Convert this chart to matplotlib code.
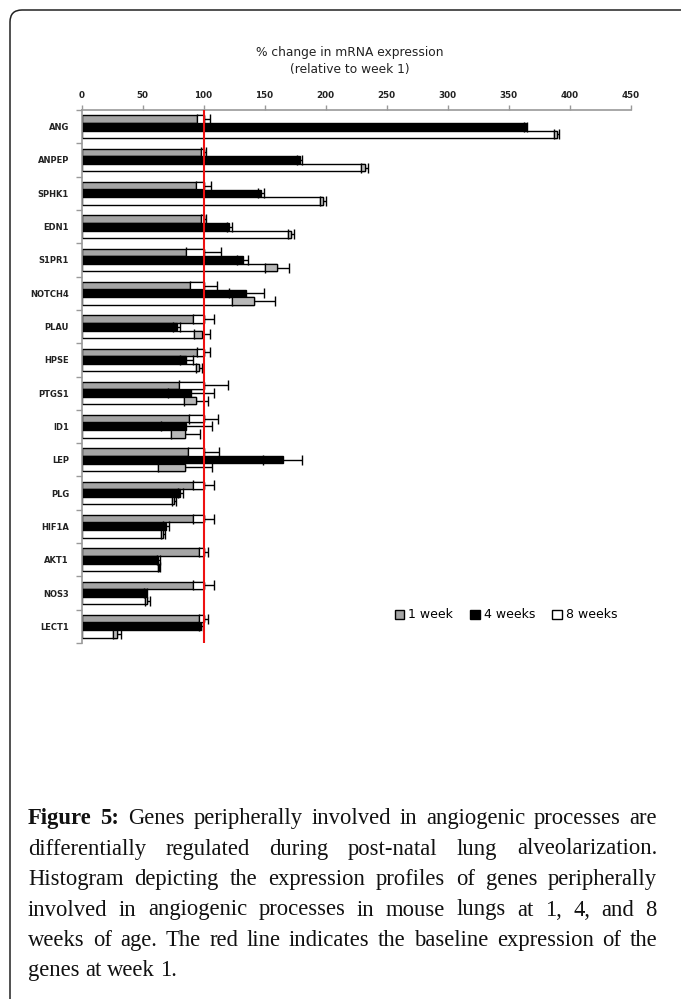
import matplotlib
matplotlib.use("Agg")
import matplotlib.pyplot as plt
import numpy as np
from matplotlib.patches import FancyBboxPatch, Patch
from matplotlib.transforms import IdentityTransform

genes = ["ANG", "ANPEP", "SPHK1", "EDN1", "S1PR1", "NOTCH4", "PLAU", "HPSE",
         "PTGS1", "ID1", "LEP", "PLG", "HIF1A", "AKT1", "NOS3", "LECT1"]
week1 = [100, 100, 100, 100, 100, 100, 100, 100, 100, 100, 100, 100, 100, 100, 100, 100]
week1_err = [5, 2, 6, 2, 14, 11, 9, 5, 20, 12, 12.5, 9, 9, 3.5, 9, 3.5]
week4 = [364, 179, 147, 121, 132, 135, 78, 86, 90, 86, 165, 81, 69, 63, 52.5, 98]
week4_err = [1.5, 2, 2.5, 2, 4.5, 14.5, 3, 5, 19, 21, 16, 2, 2.5, 1.5, 1.5, 1.5]
week8 = [389.5, 232, 198, 172, 160, 141, 99, 96, 94, 85, 85, 76, 67, 63.5, 54, 29]
week8_err = [2, 3, 2.5, 2.5, 10, 18, 6.5, 2.5, 10, 12, 22, 1.5, 1.5, 1, 2, 3]
series_labels = ["1 week", "4 weeks", "8 weeks"]
x_ticks = [0, 50, 100, 150, 200, 250, 300, 350, 400, 450]
baseline = 100

title = "% change in mRNA expression\n(relative to week 1)"
caption_lines = [
    "Genes peripherally involved in angiogenic processes are",
    "differentially regulated during post-natal lung alveolarization.",
    "Histogram depicting the expression profiles of genes peripherally",
    "involved in angiogenic processes in mouse lungs at 1, 4, and 8",
    "weeks of age. The red line indicates the baseline expression of the",
    "genes at week 1.",
]
caption_bold = "Figure 5:"

W, H = 681, 999
fig = plt.figure(figsize=(W / 100, H / 100), dpi=100)
fig.patch.set_facecolor("white")

# outer rounded frame (extends beyond right/bottom)
frame = FancyBboxPatch((10, -40), 760, (H - 10) + 40,
                       boxstyle="round,pad=0,rounding_size=12",
                       transform=IdentityTransform(), fill=False,
                       edgecolor="#222222", linewidth=1.1)
fig.patches.append(frame)

ax = fig.add_axes([81.5 / W, 1 - 643 / H, (630.5 - 81.5) / W, (643 - 110) / H])

y = np.arange(len(genes))
bh = 0.22
offs = [-0.23, 0.0, 0.23]
colors = ["#a5a5a5", "black", "white"]
vals = [week1, week4, week8]
errs = [week1_err, week4_err, week8_err]
box_fill = ["white", None, "#b8b8b8"]

for k in range(3):
    v = np.array(vals[k], dtype=float)
    e = np.array(errs[k], dtype=float)
    yy = y + offs[k]
    ax.barh(yy, v, height=bh, color=colors[k], edgecolor="black", linewidth=1.0, zorder=2)
    ax.errorbar(v, yy, xerr=e, fmt="none", ecolor="black", elinewidth=1.0,
                capsize=3.4, capthick=1.0, zorder=3)
    if box_fill[k] is not None:
        ax.barh(yy, e, left=v - e, height=bh, color=box_fill[k],
                edgecolor="black", linewidth=0.9, zorder=4)

ax.axvline(baseline, color="#ee1111", linewidth=1.5, zorder=6)

ax.set_xlim(x_ticks[0], x_ticks[-1])
ax.set_ylim(len(genes) - 0.5, -0.5)
ax.xaxis.tick_top()
ax.set_xticks(x_ticks)
ax.set_xticklabels([str(t) for t in x_ticks], fontsize=6.3, fontweight="bold",
                   color="#222222")
ax.tick_params(axis="x", direction="out", length=3.5, width=1.0, color="#999999", pad=4)
ax.set_yticks(y)
ax.set_yticklabels(genes, fontsize=6.0, fontweight="bold", color="#222222")
ax.tick_params(axis="y", which="major", length=0, pad=9)
ax.set_yticks(np.arange(len(genes) + 1) - 0.5, minor=True)
ax.tick_params(axis="y", which="minor", direction="out", length=4, width=1.0, color="#999999")
for s in ["right", "bottom"]:
    ax.spines[s].set_visible(False)
for s in ["top", "left"]:
    ax.spines[s].set_color("#999999")
    ax.spines[s].set_linewidth(1.2)
ax.set_facecolor("white")

fig.text(350 / W, 1 - 61 / H, title, ha="center", va="center", fontsize=8.8,
         linespacing=1.45, color="#222222")

handles = [Patch(facecolor=c, edgecolor="black", linewidth=1.0) for c in colors]
fig.legend(handles, series_labels, loc="center", bbox_to_anchor=(506 / W, 1 - 615 / H),
           ncol=3, frameon=False, fontsize=9, handlelength=0.75, handleheight=0.75,
           handletextpad=0.3, columnspacing=1.4, borderaxespad=0)

# caption, justified
renderer = fig.canvas.get_renderer()
left_px, right_px = 28, 657
baselines = [824, 854.5, 885, 915.5, 946, 976]
cap_font = dict(family="Liberation Serif", fontsize=16.3, color="#111111")

t1 = fig.text(0, 0, "a a", **cap_font)
t2 = fig.text(0, 0, "aa", **cap_font)
space_w = t1.get_window_extent(renderer).width - t2.get_window_extent(renderer).width
t1.remove()
t2.remove()

for i, line in enumerate(caption_lines):
    words = line.split(" ")
    items = []
    if i == 0:
        for w in caption_bold.split(" "):
            items.append((w, "bold"))
    items += [(w, "normal") for w in words]
    texts = []
    for w, wt in items:
        t = fig.text(0, 1 - baselines[i] / H, w, ha="left", va="baseline",
                     fontweight=wt, **cap_font)
        texts.append(t)
    widths = [t.get_window_extent(renderer).width for t in texts]
    if i < len(caption_lines) - 1:
        gap = (right_px - left_px - sum(widths)) / (len(texts) - 1)
    else:
        gap = space_w
    x = left_px
    for t, wdt in zip(texts, widths):
        t.set_x(x / W)
        x += wdt + gap

fig.savefig("out.png", dpi=100, facecolor="white")
